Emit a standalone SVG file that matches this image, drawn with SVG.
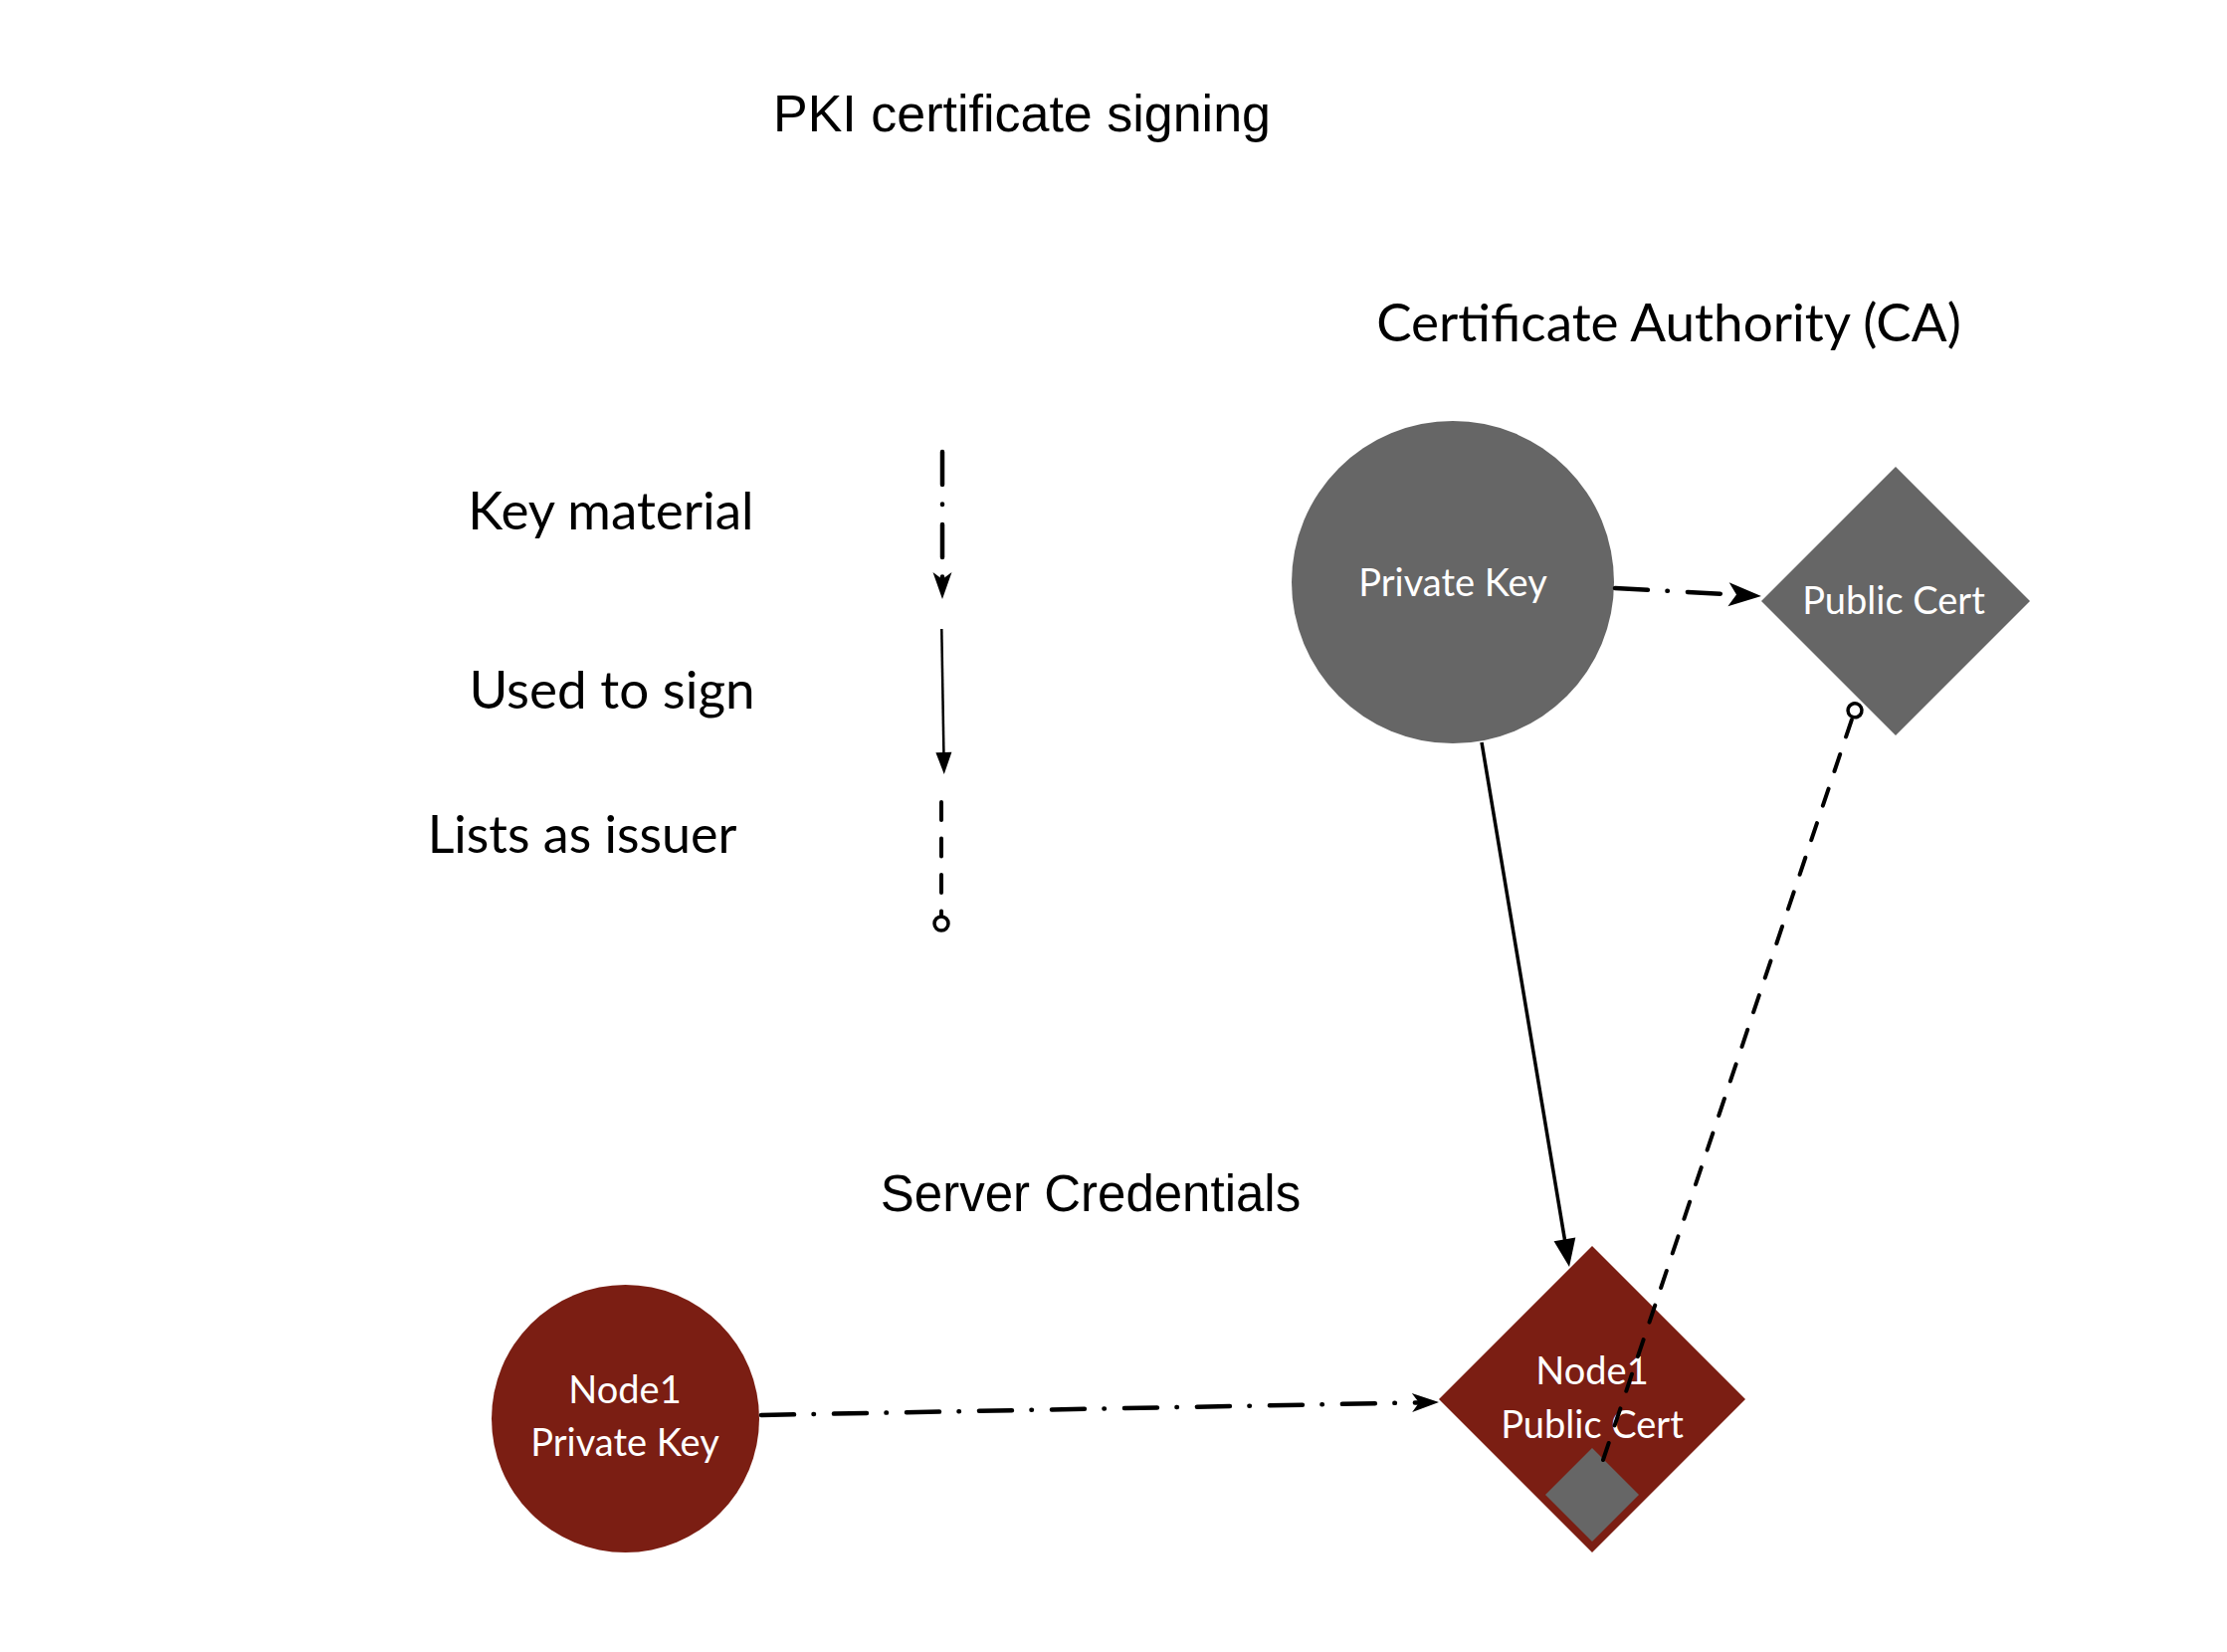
<svg xmlns="http://www.w3.org/2000/svg" width="2238" height="1660" viewBox="0 0 2238 1660">
<style>
.title{font-family:"Liberation Sans",Arial,sans-serif;font-size:52px;fill:#000}
.lbl{font-family:Lato,"Noto Sans",sans-serif;fill:#000}
.nt{font-family:Lato,"Noto Sans",sans-serif;font-size:38px;fill:#fff;text-anchor:middle}
.gray{fill:#666666}
.red{fill:#7B1E13}
.dashdot{fill:none;stroke:#000;stroke-width:4.5;stroke-linecap:round;stroke-dasharray:33 19.5 0.5 20}
.dashed{fill:none;stroke:#000;stroke-width:4;stroke-linecap:round;stroke-dasharray:18 18.5}
.solid{fill:none;stroke:#000;stroke-width:3.5}
</style>
<defs>
<marker id="stealth" markerUnits="userSpaceOnUse" orient="auto" refX="0" refY="0" markerWidth="60" markerHeight="60" viewBox="-30 -30 60 60" overflow="visible">
<path d="M-7,-9.5 L20,0 L-7,9.5 L0,0 Z" fill="#000"/>
</marker>
<marker id="stealthL" markerUnits="userSpaceOnUse" orient="auto" refX="0" refY="0" markerWidth="80" markerHeight="80" viewBox="-40 -40 80 80" overflow="visible">
<path d="M-8,-12 L25,0 L-8,12 L0,0 Z" fill="#000"/>
</marker>
<marker id="tri" markerUnits="userSpaceOnUse" orient="auto" refX="0" refY="0" markerWidth="80" markerHeight="80" viewBox="-40 -40 80 80" overflow="visible">
<path d="M-18,-11 L10,0 L-18,11 Z" fill="#000"/>
</marker>
<marker id="triS" markerUnits="userSpaceOnUse" orient="auto" refX="0" refY="0" markerWidth="60" markerHeight="60" viewBox="-30 -30 60 60" overflow="visible">
<path d="M-12,-8 L10,0 L-12,8 Z" fill="#000"/>
</marker>
<marker id="ring" markerUnits="userSpaceOnUse" orient="auto" refX="0" refY="0" markerWidth="40" markerHeight="40" viewBox="-20 -20 40 40" overflow="visible">
<circle cx="8.5" cy="0" r="7" fill="#fff" stroke="#000" stroke-width="3.5"/>
</marker>
</defs>
<rect width="2238" height="1660" fill="#fff"/>

<g id="titles">
<text class="title" x="1027" y="132" text-anchor="middle">PKI certificate signing</text>
<text class="title" x="1096" y="1217" text-anchor="middle" style="font-size:51px">Server Credentials</text>
<text class="lbl" x="1677" y="343" text-anchor="middle" style="font-size:53px">Certificate Authority (CA)</text>
</g>

<g id="legend">
<text class="lbl" x="614" y="532" text-anchor="middle" style="font-size:53px">Key material</text>
<text class="lbl" x="615" y="712" text-anchor="middle" style="font-size:53px">Used to sign</text>
<text class="lbl" x="585" y="857" text-anchor="middle" style="font-size:52px">Lists as issuer</text>
</g>

<g id="ca-private-key">
<circle class="gray" cx="1460" cy="585" r="162"/>
<text class="nt" x="1460" y="599">Private Key</text>
</g>

<g id="ca-public-cert">
<polygon class="gray" points="1905,469 2040,604 1905,739 1770,604"/>
<text class="nt" x="1903" y="617">Public Cert</text>
</g>

<g id="node1-private-key">
<circle class="red" cx="628.5" cy="1425.5" r="134.5"/>
<text class="nt" x="628" y="1410">Node1</text>
<text class="nt" x="628" y="1463">Private Key</text>
</g>

<g id="node1-public-cert">
<polygon class="red" points="1600,1252 1754,1406 1600,1560 1446,1406"/>
<text class="nt" x="1600" y="1391">Node1</text>
<text class="nt" x="1600" y="1445">Public Cert</text>
<polygon class="gray" points="1600,1455 1647,1502 1600,1549 1553,1502"/>
</g>

<g id="connectors">
<line class="dashdot" x1="947" y1="454" x2="947" y2="582" marker-end="url(#stealth)"/>
<line class="solid" style="stroke-width:2.5" x1="946.3" y1="632" x2="948.6" y2="768" marker-end="url(#triS)"/>
<line class="dashed" x1="946" y1="806" x2="946" y2="919.5" marker-end="url(#ring)"/>

<line class="dashdot" x1="1623" y1="591" x2="1745" y2="597.6" marker-end="url(#stealthL)"/>
<line class="dashdot" x1="765" y1="1422" x2="1426" y2="1409.4" marker-end="url(#stealth)"/>
<line class="solid" x1="1489" y1="746" x2="1575.4" y2="1263.1" marker-end="url(#tri)"/>
<line class="dashed" x1="1611" y1="1467" x2="1861.3" y2="721.9" marker-end="url(#ring)"/>
</g>
</svg>
